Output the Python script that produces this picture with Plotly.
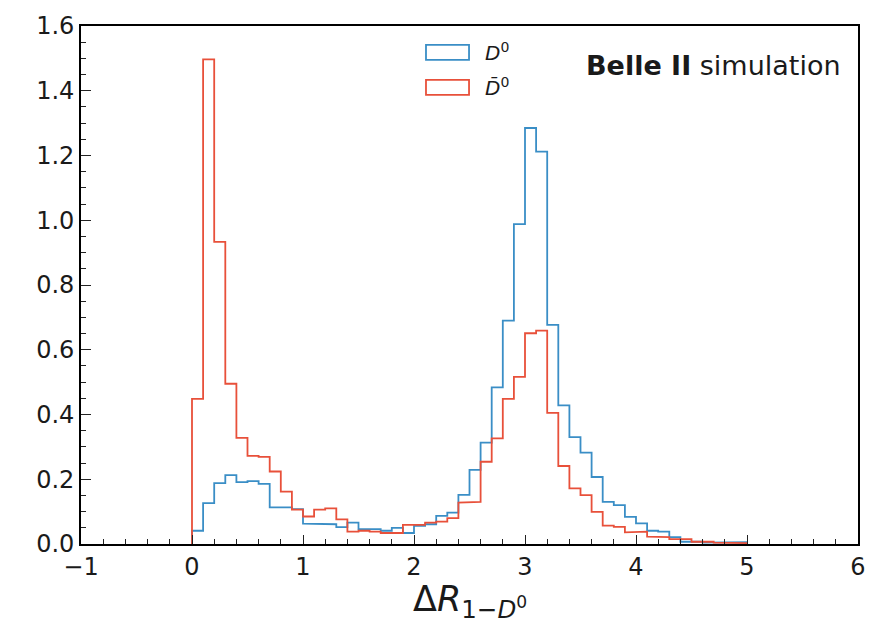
import plotly.graph_objects as go

bin_edges = [round(i * 0.1, 1) for i in range(51)]

d0_values = [0.041, 0.126, 0.188, 0.213, 0.191, 0.194, 0.186, 0.113, 0.113, 0.108,
             0.063, 0.061, 0.061, 0.052, 0.066, 0.046, 0.046, 0.041, 0.050, 0.034,
             0.056, 0.061, 0.087, 0.097, 0.152, 0.229, 0.313, 0.484, 0.690, 0.988,
             1.285, 1.212, 0.677, 0.428, 0.330, 0.282, 0.207, 0.130, 0.120, 0.084,
             0.064, 0.041, 0.038, 0.021, 0.007, 0.007, 0.004, 0.004, 0.006, 0.006]

d0bar_values = [0.448, 1.497, 0.933, 0.495, 0.328, 0.272, 0.269, 0.224, 0.162, 0.106,
                0.085, 0.106, 0.110, 0.076, 0.038, 0.041, 0.038, 0.034, 0.034, 0.059,
                0.059, 0.066, 0.069, 0.080, 0.128, 0.130, 0.254, 0.326, 0.448, 0.516,
                0.651, 0.659, 0.405, 0.241, 0.172, 0.151, 0.099, 0.057, 0.053, 0.036,
                0.038, 0.023, 0.021, 0.015, 0.015, 0.007, 0.007, 0.004, 0.003, 0.003]

x_ticks = [-1, 0, 1, 2, 3, 4, 5, 6]
y_ticks = [0.0, 0.2, 0.4, 0.6, 0.8, 1.0, 1.2, 1.4, 1.6]

BLUE = "#3a8ec6"
RED = "#e8503a"


def step_outline(edges, vals):
    xs, ys = [edges[0]], [0]
    for i, v in enumerate(vals):
        xs += [edges[i], edges[i + 1]]
        ys += [v, v]
    xs.append(edges[-1])
    ys.append(0)
    return xs, ys


fig = go.Figure()
for vals, col in [(d0_values, BLUE), (d0bar_values, RED)]:
    xs, ys = step_outline(bin_edges, vals)
    fig.add_trace(go.Scatter(x=xs, y=ys, mode="lines",
                             line=dict(color=col, width=1.8),
                             showlegend=False, hoverinfo="skip"))

font_main = "DejaVu Sans"

fig.update_layout(
    width=889, height=625,
    margin=dict(l=81, r=31, t=24, b=81),
    plot_bgcolor="white", paper_bgcolor="white",
    font=dict(family=font_main, color="#1a1a1a", size=24),
    xaxis=dict(range=[-1, 6], tickvals=x_ticks, ticks="inside", ticklen=9,
               tickwidth=1.3, tickcolor="#222",
               minor=dict(dtick=0.2, ticks="inside", ticklen=5, tickwidth=1, tickcolor="#222"),
               showline=True, linecolor="black", linewidth=1.6, mirror=True,
               showgrid=False, zeroline=False, tickfont=dict(size=24)),
    yaxis=dict(range=[0, 1.6], tickvals=y_ticks, tickformat=".1f", ticks="inside",
               ticklen=10, tickwidth=1.3, tickcolor="#222",
               minor=dict(dtick=0.05, ticks="inside", ticklen=5, tickwidth=1, tickcolor="#222"),
               showline=True, linecolor="black", linewidth=1.6, mirror=True,
               showgrid=False, zeroline=False, tickfont=dict(size=24)),
)

# x-axis title
fig.add_annotation(xref="paper", yref="paper", x=0.5, y=-0.064, yanchor="top",
                   xanchor="center", showarrow=False,
                   text="Δ<i>R</i><sub>1−<i>D</i><sup>0</sup></sub>",
                   font=dict(size=35, family=font_main, color="#1a1a1a"))

# manual legend
legend_items = [("<i>D</i><sup>0</sup>", BLUE, 0.9635, 0.9346),
                ("<i>D̄</i><sup>0</sup>", RED, 0.896, 0.867)]
for label, col, y1, y0 in legend_items:
    fig.add_shape(type="rect", xref="paper", yref="paper",
                  x0=0.444, x1=0.4994, y0=y0, y1=y1,
                  line=dict(color=col, width=1.8), fillcolor="rgba(0,0,0,0)")
    fig.add_annotation(xref="paper", yref="paper", x=0.518, y=(y0 + y1) / 2,
                       xanchor="left", yanchor="middle", showarrow=False,
                       text=label, font=dict(size=20, family=font_main, color="#1a1a1a"))

fig.add_annotation(xref="paper", yref="paper", x=0.981, y=0.923,
                   xanchor="right", yanchor="middle", showarrow=False,
                   text="<b>Belle II</b> simulation",
                   font=dict(size=27, family=font_main, color="#1a1a1a"))

fig.write_html("out.html")
